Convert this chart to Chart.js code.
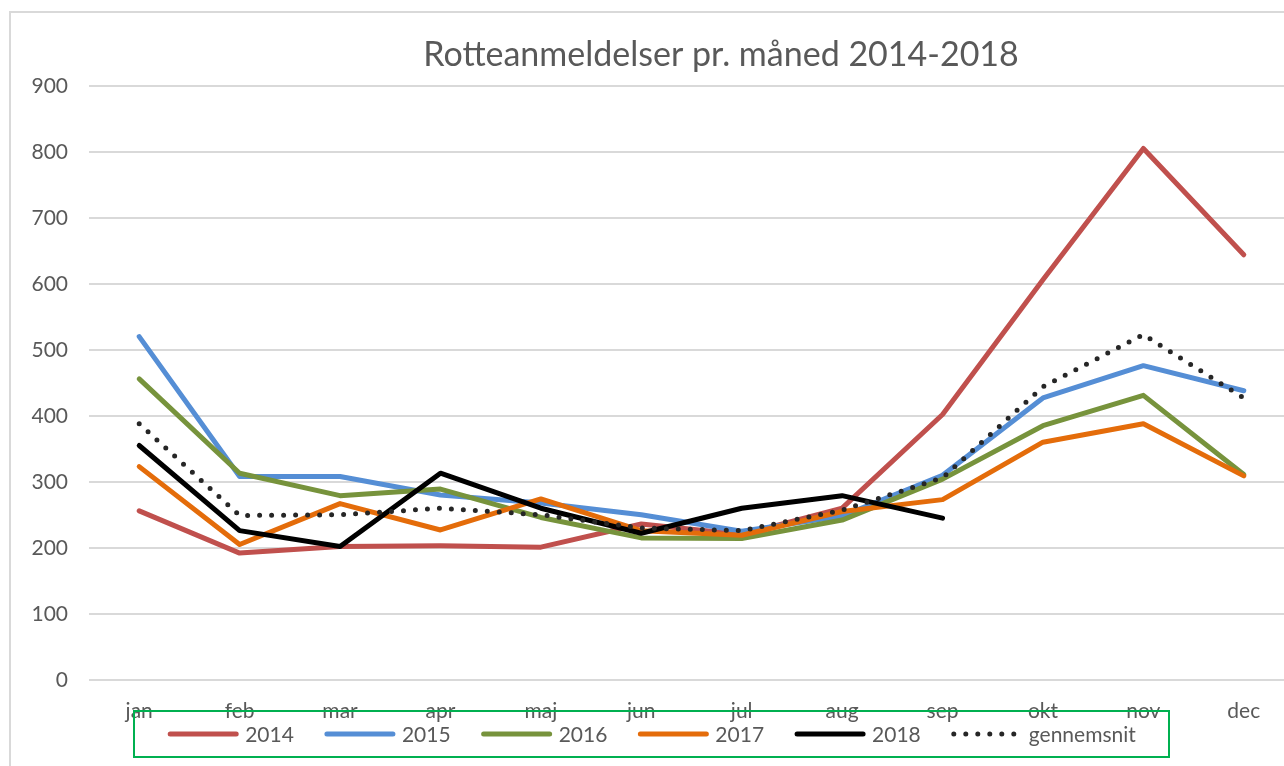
<!DOCTYPE html>
<html>
<head>
<meta charset="utf-8">
<title>Rotteanmeldelser pr. måned 2014-2018</title>
<script src="https://cdn.jsdelivr.net/npm/chart.js@4.4.1/dist/chart.umd.min.js"></script>
<style>
  html, body { margin: 0; padding: 0; background: #fff; overflow: hidden; }
  #frame { position: absolute; left: 9px; top: 11px; width: 1400px; height: 900px; border: 2px solid #d9d9d9; }
  #wrap { position: absolute; left: 0; top: 0; width: 1442px; height: 766px; }
</style>
</head>
<body>
<div id="frame"></div>
<div id="wrap"><canvas id="rotChart"></canvas></div>
<script>
// months on the x axis
const months = ['jan', 'feb', 'mar', 'apr', 'maj', 'jun', 'jul', 'aug', 'sep', 'okt', 'nov', 'dec'];
const yTicks = [0, 100, 200, 300, 400, 500, 600, 700, 800, 900];

// reports per month
const data2014 = [256, 192, 202, 203, 201, 236, 220, 260, 402, 606, 805, 644];
const data2015 = [520, 308, 308, 280, 268, 250, 225, 248, 310, 427, 476, 438];
const data2016 = [456, 313, 279, 289, 246, 215, 214, 242, 304, 385, 431, 311];
const data2017 = [323, 205, 267, 227, 274, 226, 219, 255, 273, 360, 388, 309];
const data2018 = [355, 226, 202, 313, 260, 222, 260, 279, 245, null, null, null];
const average  = [388, 249, 250, 260, 250, 230, 226, 257, 306, 444, 523, 427];

const textColor = '#595959';
const fontFamily = 'Lato, "Liberation Sans", sans-serif';

// the original chart is cropped on the right, so its title sits right of our box centre
const shiftTitle = {
    id: 'shiftTitle',
    afterLayout(chart, args, opts) {
        const t = chart.titleBlock;
        t.left += opts.dx;
        t.right += opts.dx;
    }
};

// legend in a green box, laid over the month labels like the original
const boxedLegend = {
    id: 'boxedLegend',
    afterDraw(chart, args, opts) {
        const ctx = chart.ctx;
        ctx.save();
        ctx.strokeStyle = '#00b050';
        ctx.lineWidth = 2;
        ctx.strokeRect(opts.left, opts.top, opts.width, opts.height);

        ctx.font = opts.fontSize + 'px ' + fontFamily;
        ctx.fillStyle = textColor;
        ctx.textBaseline = 'middle';
        const items = chart.data.datasets.map(ds => ({ ds, w: ctx.measureText(ds.label).width }));
        const total = items.reduce((s, it) => s + opts.sample + opts.gap + it.w, 0) + opts.spacing * (items.length - 1);
        let x = opts.left + (opts.width - total) / 2;
        const y = opts.top + opts.height / 2;
        items.forEach(it => {
            ctx.beginPath();
            ctx.strokeStyle = it.ds.borderColor;
            ctx.lineWidth = it.ds.borderWidth;
            ctx.lineCap = 'round';
            ctx.setLineDash(it.ds.borderDash || []);
            ctx.moveTo(x + 3, y);
            ctx.lineTo(x + opts.sample - 3, y);
            ctx.stroke();
            ctx.setLineDash([]);
            ctx.fillText(it.ds.label, x + opts.sample + opts.gap, y + 1);
            x += opts.sample + opts.gap + it.w + opts.spacing;
        });
        ctx.restore();
    }
};

function line(label, values, color, order) {
    return {
        label: label,
        data: values,
        borderColor: color,
        backgroundColor: color,
        borderWidth: 5,
        borderCapStyle: 'round',
        borderJoinStyle: 'round',
        pointRadius: 0,
        tension: 0,
        order: order
    };
}

const avgSet = line('gennemsnit', average, '#262626', 1);
avgSet.borderDash = [0, 12];

new Chart(document.getElementById('rotChart'), {
    type: 'line',
    data: {
        labels: months,
        datasets: [
            line('2014', data2014, '#c0504d', 6),
            line('2015', data2015, '#558ed5', 5),
            line('2016', data2016, '#77933c', 4),
            line('2017', data2017, '#e46c0a', 3),
            line('2018', data2018, '#000000', 2),
            avgSet
        ]
    },
    options: {
        responsive: true,
        maintainAspectRatio: false,
        animation: false,
        layout: { padding: { top: 0, right: 148, bottom: 23, left: 0 } },
        plugins: {
            legend: { display: false },
            tooltip: { enabled: false },
            title: {
                display: true,
                text: 'Rotteanmeldelser pr. måned 2014-2018',
                color: textColor,
                font: { family: fontFamily, size: 34, weight: 'normal' },
                padding: { top: 35, bottom: 10 }
            },
            shiftTitle: { dx: 74 },
            boxedLegend: { left: 134, top: 711, width: 1035, height: 46, fontSize: 21, sample: 72, gap: 6, spacing: 30 }
        },
        scales: {
            x: {
                offset: true,
                grid: { display: false, drawTicks: false },
                border: { display: false },
                ticks: { color: textColor, font: { family: fontFamily, size: 21 }, padding: 19, maxRotation: 0, autoSkip: false }
            },
            y: {
                min: 0,
                max: 900,
                afterBuildTicks: scale => { scale.ticks = yTicks.map(v => ({ value: v })); },
                afterFit: scale => { scale.width = 89; },
                grid: { color: '#d9d9d9', lineWidth: 2, drawTicks: false },
                border: { display: false },
                ticks: { color: textColor, font: { family: fontFamily, size: 21 }, padding: 21 }
            }
        }
    },
    plugins: [shiftTitle, boxedLegend]
});
</script>
</body>
</html>
